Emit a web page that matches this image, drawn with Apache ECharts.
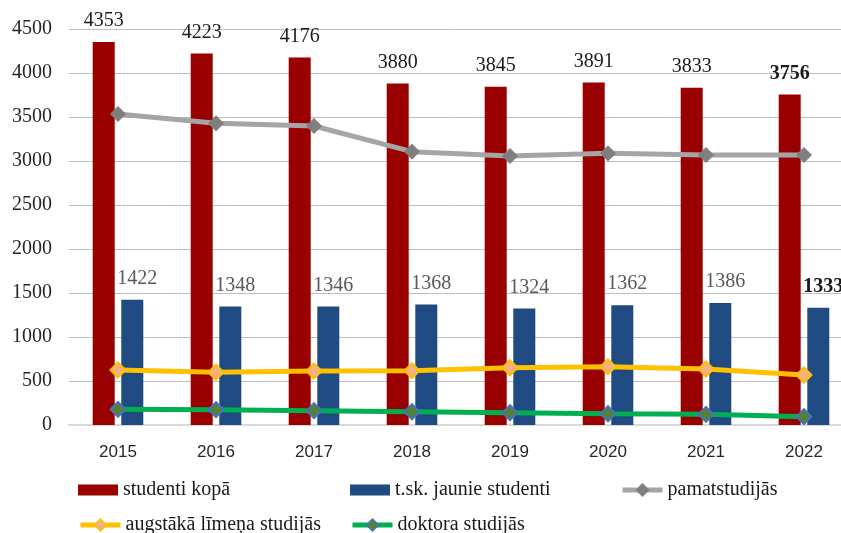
<!DOCTYPE html>
<html>
<head>
<meta charset="utf-8">
<script src="https://cdn.jsdelivr.net/npm/echarts@6/dist/echarts.min.js"></script>
<style>html,body{margin:0;padding:0;background:#fff}#c{width:841px;height:533px}</style>
</head>
<body>
<div id="c"></div>
<script>
var years = ['2015','2016','2017','2018','2019','2020','2021','2022'];
var studentiKopa = [4353, 4223, 4176, 3880, 3845, 3891, 3833, 3756];
var jaunieStudenti = [1422, 1348, 1346, 1368, 1324, 1362, 1386, 1333];
var pamatstudijas = [3534, 3428, 3398, 3106, 3057, 3087, 3068, 3068];
var augstakaLimena = [625, 599, 614, 617, 651, 662, 636, 568];
var doktora = [178, 174, 163, 151, 140, 128, 121, 95];
var yTicks = [0, 500, 1000, 1500, 2000, 2500, 3000, 3500, 4000, 4500];

var serif = '"Liberation Serif", "Times New Roman", serif';
function lastBold(arr) {
  return arr.map(function (v, i) {
    if (i === arr.length - 1) {
      return { value: v, label: { fontWeight: 'bold', color: '#1a1a1a' } };
    }
    return v;
  });
}
function legendItem(name, left, top, isBar, lineColor, fill, border) {
  var item = { name: name };
  if (isBar) {
    item.icon = 'rect';
  } else {
    item.lineStyle = { width: 5, color: lineColor };
    item.itemStyle = { color: fill, borderColor: border, borderWidth: 1.5 };
  }
  return { data: [item], left: left, top: top, itemWidth: 40, itemHeight: isBar ? 11 : 15,
    textStyle: { fontFamily: serif, fontSize: 20, color: '#1a1a1a' } };
}

var chart = echarts.init(document.getElementById('c'), null, { renderer: 'canvas' });
chart.setOption({
  animation: false,
  backgroundColor: '#fff',
  grid: { left: 69, width: 784, top: 29, bottom: 108, containLabel: false, outerBoundsMode: 'none' },
  legend: [
    legendItem('studenti kopā', 73, 475, true),
    legendItem('t.sk. jaunie studenti', 345, 475, true),
    legendItem('pamatstudijās', 615, 475, false, '#a5a5a5', '#7f7f7f', '#7f7f7f'),
    legendItem('augstākā līmeņa studijās', 73, 510, false, '#ffc000', '#f4b183', '#ffc000'),
    legendItem('doktora studijās', 345, 510, false, '#00b050', '#548235', '#4472c4')
  ],
  xAxis: {
    type: 'category',
    data: years,
    axisTick: { show: false },
    axisLine: { lineStyle: { color: '#d9d9d9', width: 2 } },
    axisLabel: { fontFamily: '"Liberation Sans", Arial, sans-serif', fontSize: 17, color: '#262626', margin: 19 }
  },
  yAxis: {
    type: 'value',
    min: yTicks[0],
    max: yTicks[yTicks.length - 1],
    interval: yTicks[1] - yTicks[0],
    axisLine: { show: false },
    axisTick: { show: false },
    splitLine: { lineStyle: { color: '#bfbfbf', width: 1 } },
    axisLabel: { fontFamily: serif, fontSize: 20, color: '#262626', margin: 17,
      formatter: function (v) { return String(v); } }
  },
  series: [
    {
      name: 'studenti kopā', type: 'bar', data: lastBold(studentiKopa),
      barWidth: 22, barGap: '30%',
      itemStyle: { color: '#990000' },
      label: { show: true, position: 'top', distance: 11, fontFamily: serif, fontSize: 20, color: '#1a1a1a' }
    },
    {
      name: 't.sk. jaunie studenti', type: 'bar', data: lastBold(jaunieStudenti),
      barWidth: 22,
      itemStyle: { color: '#1f4a82' },
      label: { show: true, position: 'top', distance: 11, offset: [5, 0], fontFamily: serif, fontSize: 20, color: '#595959' }
    },
    {
      name: 'pamatstudijās', type: 'line', data: pamatstudijas, z: 5,
      symbol: 'diamond', symbolSize: 15,
      lineStyle: { color: '#a5a5a5', width: 5 },
      itemStyle: { color: '#7f7f7f', borderColor: '#7f7f7f', borderWidth: 1 }
    },
    {
      name: 'augstākā līmeņa studijās', type: 'line', data: augstakaLimena, z: 5,
      symbol: 'diamond', symbolSize: 15,
      lineStyle: { color: '#ffc000', width: 5 },
      itemStyle: { color: '#f4b183', borderColor: '#ffc000', borderWidth: 2 }
    },
    {
      name: 'doktora studijās', type: 'line', data: doktora, z: 5,
      symbol: 'diamond', symbolSize: 15,
      lineStyle: { color: '#00b050', width: 5 },
      itemStyle: { color: '#548235', borderColor: '#4472c4', borderWidth: 2 }
    }
  ]
});
</script>
</body>
</html>
